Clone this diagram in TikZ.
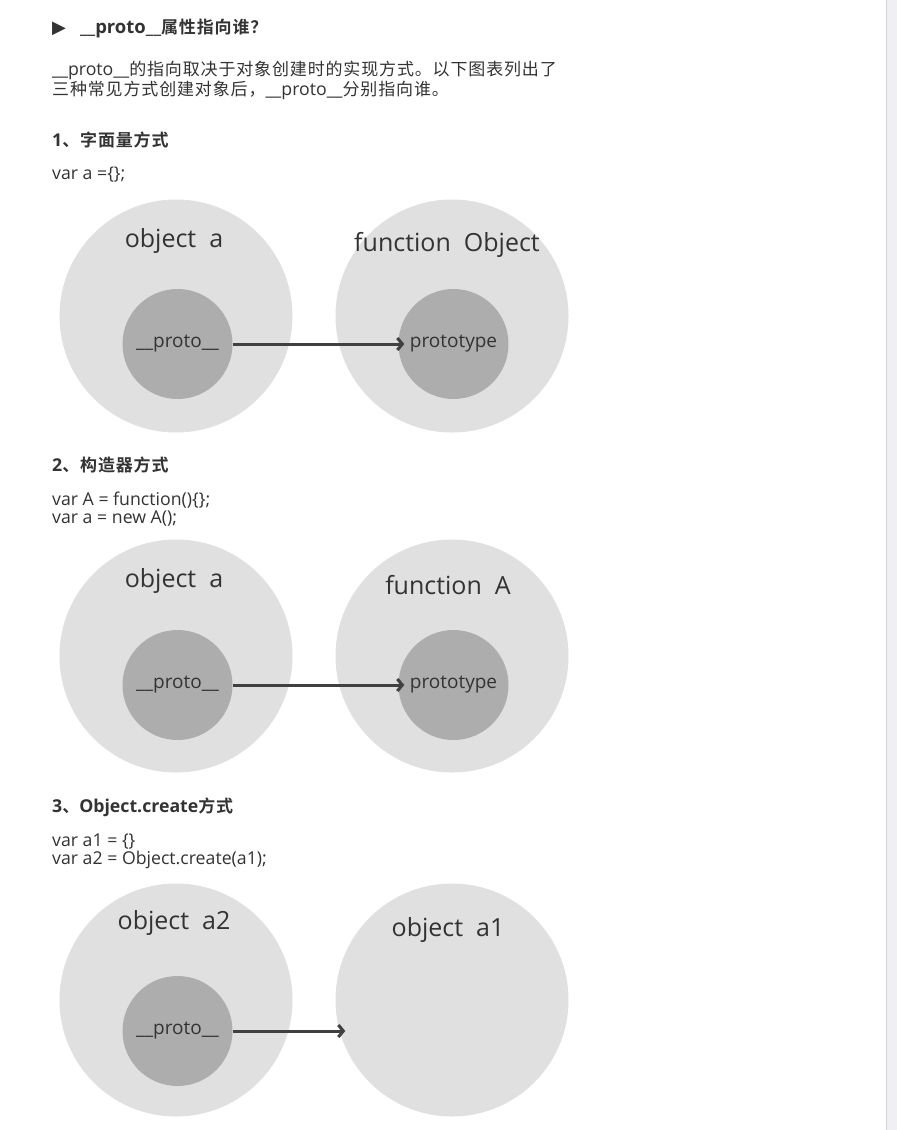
\documentclass[tikz,border=0pt]{standalone}
\usepackage{fontspec}
\setmainfont{Open Sans}
\newfontfamily\cjk[LetterSpace=5,BoldFont={Noto Sans CJK SC Bold}]{Noto Sans CJK SC}
\newfontfamily\symb{DejaVu Sans}
\usetikzlibrary{arrows.meta,positioning}
\definecolor{ink}{HTML}{333333}
\definecolor{outerfill}{HTML}{E0E0E0}
\definecolor{innerfill}{HTML}{ADADAD}
\definecolor{arrowink}{HTML}{404040}
\definecolor{scrollfill}{HTML}{EFEFF4}
\definecolor{scrollline}{HTML}{D4D4D8}
\newcommand\zh[1]{{\cjk\fontsize{17}{18}\selectfont#1}}

\begin{document}
\begin{tikzpicture}[x=1pt, y=-1pt, node distance=276pt,
    outer node/.style={circle,fill=outerfill,inner sep=0pt,minimum size=233pt},
    inner node/.style={circle,fill=innerfill,inner sep=0pt,minimum size=110pt,
                       text=ink,font=\fontsize{19}{19}\selectfont},
    name node/.style={text=ink,inner sep=0pt,font=\fontsize{25}{25}\selectfont},
    line node/.style={anchor=west,inner sep=0pt,text=ink,align=left,
                      font=\fontsize{17.7}{18}\selectfont},
    head node/.style={line node,font=\fontsize{17.7}{18}\selectfont\bfseries},
    link/.style={draw=arrowink,line width=3pt,-{Straight Barb[length=5pt,width=12pt]}}]
  \useasboundingbox (0,0) rectangle (897,1130);
  \fill[white] (0,0) rectangle (897,1130);
  \fill[scrollfill] (886,0) rectangle (897,1130);
  \draw[scrollline] (886.5,0) -- (886.5,1130);

  \node[head node,font=\fontsize{18.5}{18}\selectfont\bfseries] (title) at (52,28)
    {{\symb\fontsize{18}{18}\selectfont ▶}\hspace{14pt}\_\_proto\_\_\zh{属性指向谁？}};
  \node[line node,font=\fontsize{17.7}{20}\selectfont] (intro) at (52,80)
    {\_\_proto\_\_\zh{的指向取决于对象创建时的实现方式。以下图表列出了}\\
     \zh{三种常见方式创建对象后，}\_\_proto\_\_\zh{分别指向谁。}};

  \node[head node] (head1) at (52,140) {1\zh{、字面量方式}};
  \node[line node] (code1) at (52,175) {var a =\{\};};
  \node[outer node] (objA) at (176,316) {};
  \node[outer node] (funObject) [right of=objA] {};
  \node[name node] (nameA) at (174,241) {object~~a};
  \node[name node] (nameObject) at (447,245) {function~~Object};
  \node[inner node] (protoA) at (177.5,344) {\_\_proto\_\_};
  \node[inner node] (protoObject) [right of=protoA] {prototype};
  \draw[link,shorten >=-6pt] (protoA) -- (protoObject);

  \node[head node] (head2) at (52,465) {2\zh{、构造器方式}};
  \node[line node] (code2) at (52,509) {var A = function()\{\};\\var a = new A();};
  \node[outer node] (objB) at (176,656) {};
  \node[outer node] (funA) [right of=objB] {};
  \node[name node] (nameB) at (174,581) {object~~a};
  \node[name node] (nameFunA) at (448,585) {function~~A};
  \node[inner node] (protoB) at (177.5,685) {\_\_proto\_\_};
  \node[inner node] (protoFunA) [right of=protoB] {prototype};
  \draw[link,shorten >=-6pt] (protoB) -- (protoFunA);

  \node[head node] (head3) at (52,807) {3\zh{、}Object.create\zh{方式}};
  \node[line node] (code3) at (52,851) {var a1 = \{\}\\var a2 = Object.create(a1);};
  \node[outer node] (objA2) at (176,1000) {};
  \node[outer node] (objA1) [right of=objA2] {};
  \node[name node] (nameA2) at (174,923) {object~~a2};
  \node[name node] (nameA1) at (448,930) {object~~a1};
  \node[inner node] (protoA2) at (177.5,1031) {\_\_proto\_\_};
  \coordinate (a1edge) at (objA1.west |- protoA2);
  \draw[link,shorten >=-10pt] (protoA2) -- (a1edge);
\end{tikzpicture}
\end{document}
